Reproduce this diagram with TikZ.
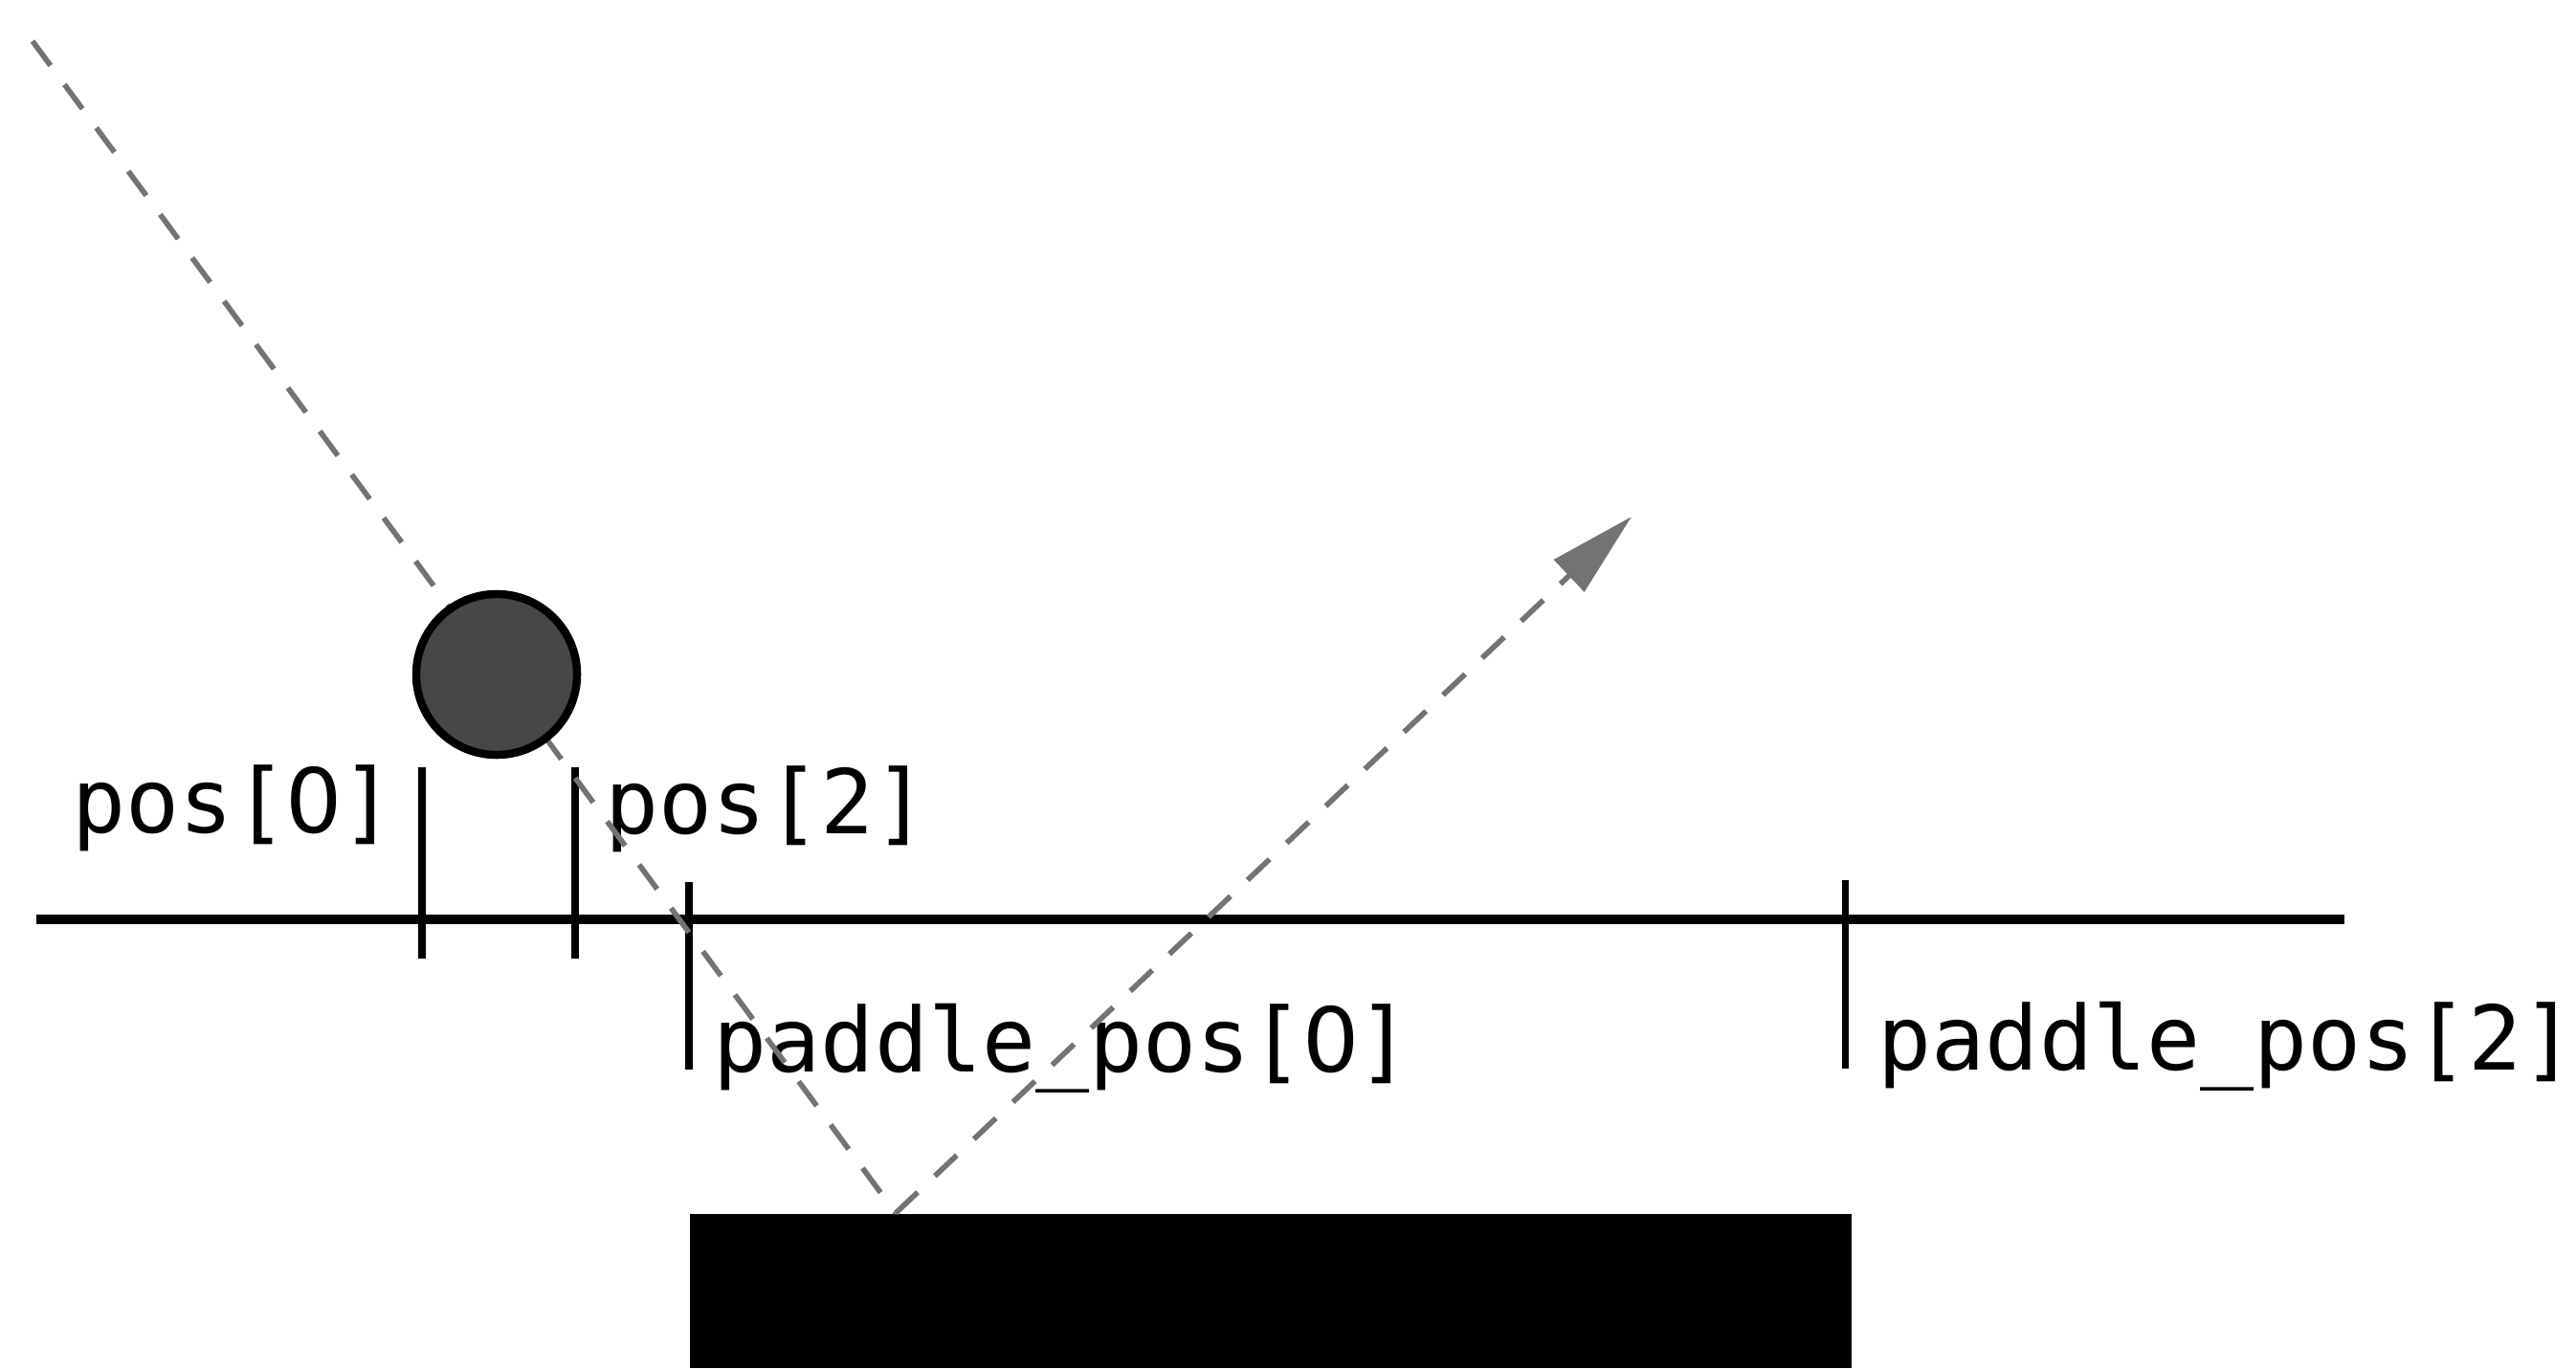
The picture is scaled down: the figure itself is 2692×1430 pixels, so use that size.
\documentclass[tikz,border=0pt]{standalone}
\usepackage{fontspec}
\setmonofont{DejaVu Sans Mono}
\newfontfamily\plainzerofont{DejaVu Sans}
\newcommand\zr{\makebox[0.602em]{\plainzerofont 0}}
\usetikzlibrary{arrows.meta}
\begin{document}
\begin{tikzpicture}[x=0.01cm,y=-0.01cm,
  axisline/.style={line width=2.6pt,black},
  tickline/.style={line width=2pt,black},
  traj/.style={line width=1.6pt,draw=black!55,dash pattern=on 9pt off 7pt},
  lbl/.style={inner sep=0pt,anchor=base west,font=\ttfamily\fontsize{26.5}{30}\selectfont}]
\useasboundingbox (0,0) rectangle (2692,1430);
% paddle
\fill[black] (721,1269) rectangle (1935,1430);
\coordinate (start) at (34,43);
\coordinate (bounce) at (936,1268);
\coordinate (tip) at (1705,540);
% axis
\coordinate (axL) at (38,961);
\coordinate (axR) at (2450,961);
\draw[axisline] (axL) -- (axR);
% ticks
\coordinate (t1a) at (441,802); \coordinate (t1b) at (441,1002);
\coordinate (t2a) at (601,802); \coordinate (t2b) at (601,1002);
\coordinate (t3a) at (720,922); \coordinate (t3b) at (720,1118);
\coordinate (t4a) at (1928,920); \coordinate (t4b) at (1928,1117);
\draw[tickline] (t1a) -- (t1b);
\draw[tickline] (t2a) -- (t2b);
\draw[tickline] (t3a) -- (t3b);
\draw[tickline] (t4a) -- (t4b);
% labels
\node[lbl] (p0) at (75,870) {pos[\zr]};
\node[lbl] (p2) at (632,871) {pos[2]};
\node[lbl] (pp0) at (745,1120) {paddle\_pos[\zr]};
\node[lbl] (pp2) at (1962,1118) {paddle\_pos[2]};
% trajectory
\draw[traj] (start) -- (bounce);
\draw[traj,-{Triangle[length=0.9cm,width=0.45cm]}] (bounce) -- (tip);
% ball
\node[circle,draw=black,line width=2.4pt,fill=black!72,minimum size=1.68cm,inner sep=0pt] (ball) at (519,705) {};
\end{tikzpicture}
\end{document}
